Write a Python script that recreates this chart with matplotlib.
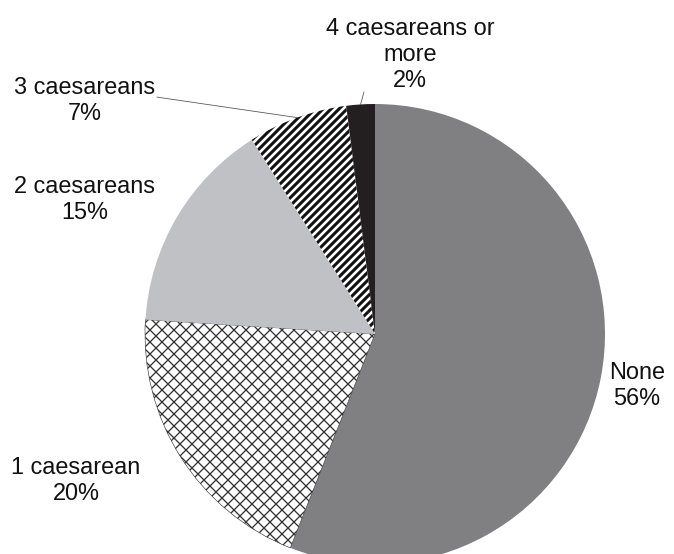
import numpy as np
import matplotlib
matplotlib.use("Agg")
from matplotlib import pyplot as plt

# slice data, clockwise from 12 o'clock
labels = ['None', '1 caesarean', '2 caesareans', '3 caesareans', '4 caesareans or\nmore']
shares = [56, 20, 15, 7, 2]
colors = ['#808083', '#ffffff', '#c0c1c4', '#ffffff', '#231f20']
hatches = [None, 'xx', None, '///', None]
hatch_edges = ['#808083', '#555555', '#c0c1c4', '#111111', '#231f20']

# label centres in pie units (radius = 1)
label_x = [1.139, -1.300, -1.261, -1.261, 0.152]
label_y = [-0.226, -0.639, 0.583, 1.013, 1.213]

plt.rcParams['font.family'] = ['Liberation Sans', 'DejaVu Sans']

fig = plt.figure(figsize=(674 / 72, 554 / 72), dpi=72)
cx, cy, r = 375, 554 - 334, 230
ax = fig.add_axes([(cx - r) / 674, (cy - r) / 554, 2 * r / 674, 2 * r / 554])

wedges, _ = ax.pie(shares, colors=colors, startangle=90, counterclock=False,
                   radius=1, wedgeprops=dict(linewidth=0))
for w, h, ec in zip(wedges, hatches, hatch_edges):
    w.set_edgecolor(ec)
    w.set_clip_on(False)
    if h:
        w.set_hatch(h)
        if hasattr(w, 'set_hatch_linewidth'):
            w.set_hatch_linewidth(1.3 if h == 'xx' else 3.0)
wedges[1].set_linewidth(0.6)
wedges[1].set_edgecolor('#333333')

for i, lab in enumerate(labels):
    ax.text(label_x[i], label_y[i], f'{lab}\n{shares[i]}%', ha='center', va='center',
            multialignment='center', fontsize=23.5, color='#111111',
            linespacing=1.25, clip_on=False)

# leader lines for the two thin slices
starts = [(-0.948, 1.030), (-0.048, 1.052)]
for (sx, sy), w in zip(starts, wedges[3:]):
    mid = np.deg2rad((w.theta1 + w.theta2) / 2)
    ax.plot([sx, np.cos(mid)], [sy, np.sin(mid)], color='#555555', lw=0.8, clip_on=False)

ax.set_xlim(-1, 1)
ax.set_ylim(-1, 1)
ax.set_aspect('auto')
ax.axis('off')
fig.savefig('out.png', dpi=72)
